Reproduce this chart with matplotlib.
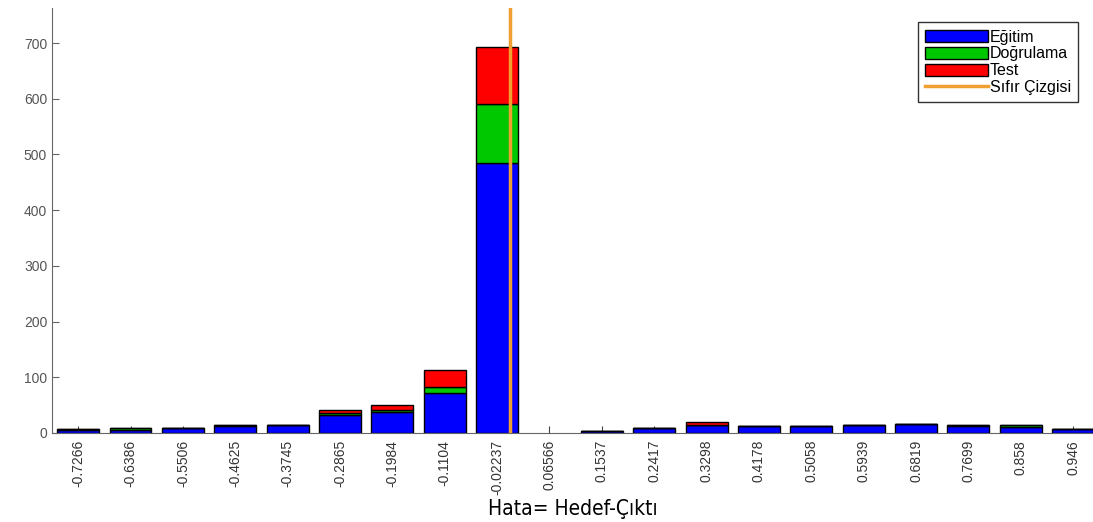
import matplotlib
matplotlib.use("Agg")
import matplotlib.pyplot as plt
from matplotlib.lines import Line2D
from matplotlib.patches import Patch
import numpy as np

plt.rcParams['font.family'] = ['Liberation Sans', 'DejaVu Sans']

bin_labels = ["-0.7266", "-0.6386", "-0.5506", "-0.4625", "-0.3745", "-0.2865",
              "-0.1984", "-0.1104", "-0.02237", "0.06566", "0.1537", "0.2417",
              "0.3298", "0.4178", "0.5058", "0.5939", "0.6819", "0.7699",
              "0.858", "0.946"]
bin_centers = [float(s) for s in bin_labels]
egitim     = [6, 6, 9, 13, 14, 32, 37, 72, 485, 0, 3, 9, 14, 13, 13, 15, 17, 12, 11, 7]
dogrulama  = [1, 3, 0, 1, 0, 4, 5, 11, 105, 0, 0, 0, 0, 0, 0, 0, 0, 2, 3, 0]
test       = [0, 0, 0, 0, 0, 5, 8, 30, 103, 0, 0, 0, 5, 0, 0, 0, 0, 0, 0, 0]
zero_x = 0.0

fig = plt.figure(figsize=(10.93, 5.22), dpi=100)
ax = fig.add_axes([0.0476, 0.1705, 0.9524, 0.8142])

x = np.array(bin_centers)
step = (x[-1] - x[0]) / (len(x) - 1)
w = step * 0.8
e = np.array(egitim); d = np.array(dogrulama); t = np.array(test)
blue, green, red, orange = '#0000FF', '#00C800', '#FF0000', '#F0A030'
tot = e + d + t
m = tot > 0
ax.bar(x[m], e[m], width=w, color=blue, edgecolor='black', linewidth=1, zorder=2)
ax.bar(x[m], d[m], width=w, bottom=e[m], color=green, edgecolor='black', linewidth=1, zorder=2)
ax.bar(x[m], t[m], width=w, bottom=(e + d)[m], color=red, edgecolor='black', linewidth=1, zorder=2)
ax.axvline(zero_x, color=orange, linewidth=2.5, zorder=3)

ax.set_xlim(x[0] - step / 2, x[-1] + 0.38 * step)
ax.set_ylim(0, 763)
ax.set_xticks(x)
ax.set_xticklabels(bin_labels, rotation=90, fontsize=10, color='#333333')
ax.set_yticks(range(0, 701, 100))
ax.tick_params(axis='y', direction='in', length=5, labelsize=10, labelcolor='#555555', color='#666666')
ax.tick_params(axis='x', direction='in', length=5, color='#444444', pad=5)
for s in ['top', 'right']:
    ax.spines[s].set_visible(False)
for s in ['left', 'bottom']:
    ax.spines[s].set_color('#666666')
ax.set_xlabel("Hata= Hedef-Çıktı", fontsize=15, family='DejaVu Sans', fontstretch='condensed', labelpad=3)

handles = [Patch(facecolor=blue, edgecolor='black', label='Eğitim'),
           Patch(facecolor=green, edgecolor='black', label='Doğrulama'),
           Patch(facecolor=red, edgecolor='black', label='Test'),
           Line2D([0], [0], color=orange, linewidth=2.5, label='Sıfır Çizgisi')]
leg = ax.legend(handles=handles, loc='upper right', bbox_to_anchor=(0.9935, 0.985),
                fontsize=11.5, fancybox=False, handlelength=3.9, handleheight=0.8,
                handletextpad=0.15, labelspacing=0.12, borderpad=0.45, framealpha=1)
leg.get_frame().set_edgecolor('#333333')

fig.savefig("out.png", dpi=100)
